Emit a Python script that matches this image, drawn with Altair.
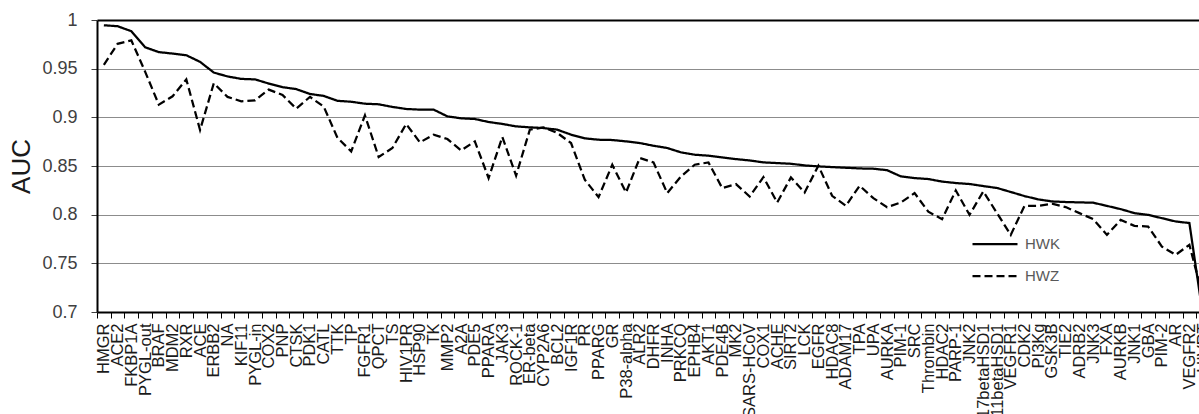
import altair as alt
import pandas as pd

# Targets in plotted order (sorted by HWK AUC)
targets = [
    "HMGR", "ACE2", "FKBP1A", "PYGL-out", "BRAF", "MDM2", "RXR", "ACE", "ERBB2", "NA",
    "KIF11", "PYGL-in", "COX2", "PNP", "CTSK", "PDK1", "CATL", "TTK", "TP", "FGFR1",
    "QPCT", "TS", "HIV1PR", "HSP90", "TK", "MMP2", "A2A", "PDE5", "PPARA", "JAK3",
    "ROCK-1", "ER-beta", "CYP2A6", "BCL2", "IGF1R", "PR", "PPARG", "GR", "P38-alpha", "ALR2",
    "DHFR", "INHA", "PRKCQ", "EPHB4", "AKT1", "PDE4B", "MK2", "SARS-HCoV", "COX1", "ACHE",
    "SIRT2", "LCK", "EGFR", "HDAC8", "ADAM17", "TPA", "UPA", "AURKA", "PIM-1", "SRC",
    "Thrombin", "HDAC2", "PARP-1", "JNK2", "17betaHSD1", "11betaHSD1", "VEGFR1", "CDK2", "PI3Kg", "GSK3B",
    "TIE2", "ADRB2", "JNK3", "FXA", "AURKB", "JNK1", "GBA", "PIM-2", "AR", "VEGFR2",
    "HIVRT",
]

hwk = [
    0.9946, 0.9936, 0.9885, 0.972, 0.967, 0.9655, 0.9638, 0.957, 0.946, 0.942,
    0.9395, 0.939, 0.9347, 0.931, 0.929, 0.924, 0.922, 0.917, 0.916, 0.914,
    0.9134, 0.9107, 0.9086, 0.9079, 0.9079, 0.901, 0.899, 0.8983, 0.8952, 0.8932,
    0.8907, 0.8897, 0.889, 0.8873, 0.8822, 0.8784, 0.877, 0.8767, 0.8753, 0.8736,
    0.8708, 0.8685, 0.864, 0.8616, 0.8606, 0.8588, 0.8571, 0.8557, 0.8537, 0.853,
    0.8523, 0.8506, 0.8496, 0.8489, 0.8482, 0.8475, 0.8472, 0.8457, 0.8393, 0.8376,
    0.8366, 0.834, 0.8325, 0.8315, 0.8294, 0.8274, 0.8233, 0.8191, 0.8157, 0.8136,
    0.813, 0.8126, 0.8123, 0.809, 0.8057, 0.8016, 0.7998, 0.7964, 0.793, 0.7914,
    0.695,
]

hwz = [
    0.954, 0.9755, 0.979, 0.947, 0.913, 0.9216, 0.939, 0.887, 0.935, 0.921,
    0.9165, 0.9175, 0.9285, 0.923, 0.909, 0.921, 0.911, 0.879, 0.865, 0.902,
    0.8592, 0.8685, 0.8932, 0.8743, 0.8822, 0.8777, 0.866, 0.8753, 0.8376, 0.8798,
    0.84, 0.8873, 0.8897, 0.8839, 0.8736, 0.8359, 0.818, 0.8513, 0.8228, 0.8582,
    0.8537, 0.8222, 0.8393, 0.8513, 0.8537, 0.8273, 0.8314, 0.8187, 0.8386, 0.8125,
    0.8382, 0.8228, 0.8503, 0.8194, 0.8091, 0.8297, 0.817, 0.8077, 0.8125, 0.8222,
    0.803, 0.7954, 0.8248, 0.7998, 0.8239, 0.8016, 0.7792, 0.8091, 0.8091, 0.8112,
    0.8078, 0.8016, 0.7954, 0.7792, 0.7946, 0.7885, 0.7878, 0.7672, 0.7587, 0.769,
    0.715,
]

y_ticks = [0.7, 0.75, 0.8, 0.85, 0.9, 0.95, 1.0]

rows = []
for i, name in enumerate(targets):
    rows.append({"pos": i + 0.5, "target": name, "series": "HWK", "auc": hwk[i]})
    rows.append({"pos": i + 0.5, "target": name, "series": "HWZ", "auc": hwz[i]})
df = pd.DataFrame(rows)

n = len(targets)
band = 1102 / 80.2  # pixel width of one category slot
name_array = "[" + ",".join("'" + t + "'" for t in targets) + "]"

FONT = "Liberation Sans"

x = alt.X(
    "pos:Q",
    scale=alt.Scale(domain=[0, 80.2], nice=False, zero=False),
    axis=alt.Axis(
        values=list(range(n)),
        labelExpr=name_array + "[datum.value]",
        labelAngle=270,
        labelOffset=band / 2,
        labelFlush=False,
        labelOverlap=False,
        labelPadding=5,
        labelFont=FONT,
        labelFontSize=16.5,
        labelColor="#1a1a1a",
        tickSize=6,
        tickColor="#000000",
        tickWidth=1,
        domainColor="#000000",
        domainWidth=2,
        grid=False,
        title=None,
    ),
)

y = alt.Y(
    "auc:Q",
    scale=alt.Scale(domain=[0.7, 1.0], nice=False, zero=False),
    axis=alt.Axis(
        values=y_ticks,
        format="~g",
        labelFont=FONT,
        labelFontSize=18,
        labelColor="#404040",
        labelPadding=14,
        tickSize=6,
        tickColor="#404040",
        domainColor="#000000",
        domainWidth=2,
        gridColor={"condition": {"test": "datum.value >= 1", "value": "#000000"}, "value": "#8c8c8c"},
        gridWidth={"condition": {"test": "datum.value >= 1", "value": 2}, "value": 1.2},
        title="AUC",
        titleFont=FONT,
        titleFontSize=26,
        titleFontWeight="normal",
        titleColor="#1a1a1a",
        titleAngle=270,
        titleAlign="center",
        titleBaseline="middle",
        titleX=-76,
        titleY=146,
    ),
)

chart = (
    alt.Chart(df)
    .mark_line(clip=True, color="#000000", strokeWidth=2.25)
    .encode(
        x=x,
        y=y,
        strokeDash=alt.StrokeDash(
            "series:N",
            scale=alt.Scale(domain=["HWK", "HWZ"], range=[[1, 0], [8, 4]]),
            legend=alt.Legend(
                title=None,
                orient="none",
                legendX=874,
                legendY=200,
                symbolType="stroke",
                symbolSize=2025,
                symbolStrokeWidth=2.25,
                symbolStrokeColor="#000000",
                labelFont=FONT,
                labelFontSize=15,
                labelColor="#595959",
                labelOffset=6,
                rowPadding=-1,
                padding=0,
            ),
        ),
    )
    .properties(
        width=1102,
        height=292,
        autosize=alt.AutoSizeParams(type="none"),
        padding={"left": 97, "top": 20, "right": 0, "bottom": 102},
        background="#ffffff",
    )
    .configure_view(stroke=None)
)

chart.save("out.html", embed_options={"renderer": "svg", "actions": False})
